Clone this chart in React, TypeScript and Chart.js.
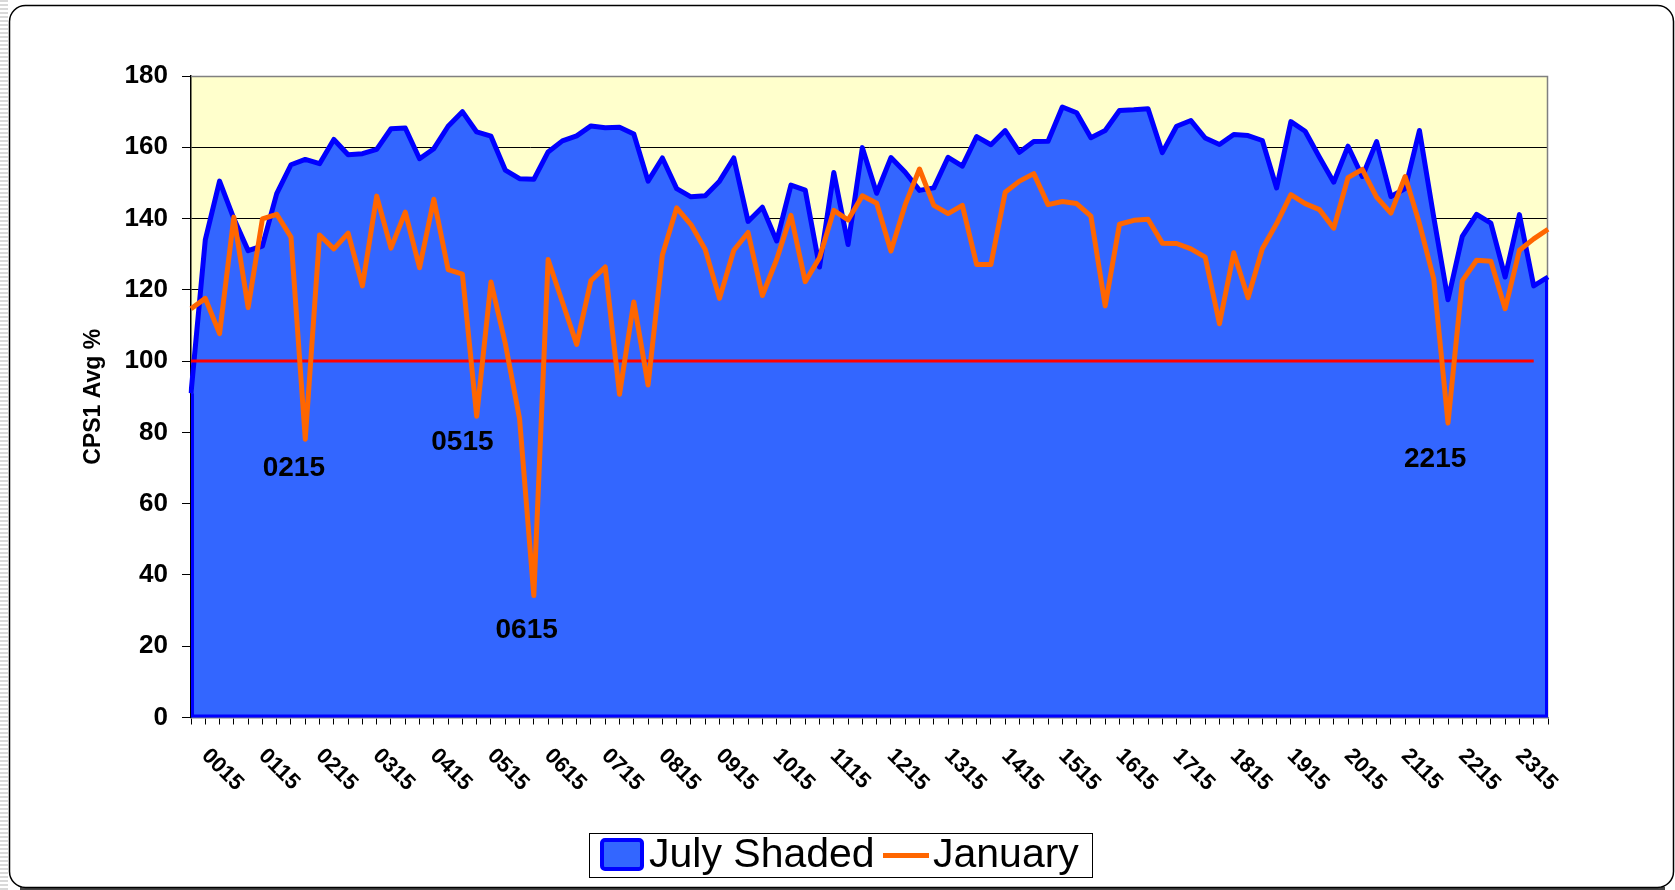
import React, { useEffect, useRef } from 'react';
import { Chart, registerables } from 'chart.js';

Chart.register(...registerables);

const categories = [
  '0015','0030','0045','0100','0115','0130','0145','0200','0215','0230','0245','0300',
  '0315','0330','0345','0400','0415','0430','0445','0500','0515','0530','0545','0600',
  '0615','0630','0645','0700','0715','0730','0745','0800','0815','0830','0845','0900',
  '0915','0930','0945','1000','1015','1030','1045','1100','1115','1130','1145','1200',
  '1215','1230','1245','1300','1315','1330','1345','1400','1415','1430','1445','1500',
  '1515','1530','1545','1600','1615','1630','1645','1700','1715','1730','1745','1800',
  '1815','1830','1845','1900','1915','1930','1945','2000','2015','2030','2045','2100',
  '2115','2130','2145','2200','2215','2230','2245','2300','2315','2330','2345','2400',
];

const julyShaded = [
  91, 134, 150.5, 140, 131, 132.3, 147, 155.1, 156.6, 155.4, 162.2, 157.9,
  158.2, 159.4, 165.2, 165.4, 156.8, 159.6, 165.9, 170, 164.3, 163.1, 153.6, 151.2,
  151, 158.7, 161.8, 163.2, 166, 165.5, 165.6, 163.7, 150.5, 157, 148.4, 146.1,
  146.4, 150.5, 157, 139.2, 143.2, 133.7, 149.4, 148, 126.4, 152.9, 132.7, 159.9,
  147.1, 157.1, 153, 147.9, 148.6, 157.2, 154.7, 163, 160.7, 164.7, 158.6, 161.6,
  161.7, 171.3, 169.7, 162.7, 164.7, 170.3, 170.5, 170.8, 158.5, 165.9, 167.5, 162.6,
  160.8, 163.6, 163.3, 161.9, 148.6, 167.2, 164.5, 157.2, 150.2, 160.3, 151.8, 161.6,
  146.2, 148.4, 164.7, 140.4, 117.2, 135, 141.2, 138.7, 123.6, 141.1, 121.1, 123.6,
];

const january = [
  114.7, 117.6, 107.7, 140.4, 115, 139.9, 141.2, 134.8, 78.1, 135.4, 131.5, 135.9,
  121.1, 146.3, 131.7, 141.8, 126.2, 145.4, 125.7, 124.4, 84.5, 122.2, 105, 83.9,
  34.2, 128.5, 116.6, 104.7, 122.6, 126.4, 90.7, 116.6, 93.3, 129.8, 143, 138.3,
  131.3, 117.6, 131.1, 136.1, 118.4, 128.5, 140.9, 122.3, 129, 142.3, 139.6, 146.4,
  144.3, 130.9, 143.9, 153.9, 143.7, 141.4, 143.7, 127.1, 127.1, 147.4, 150.5, 152.6,
  143.9, 144.8, 144.2, 140.7, 115.5, 138.4, 139.5, 139.8, 133.1, 133, 131.5, 129.2,
  110.5, 130.4, 117.8, 131.5, 138.6, 146.7, 144.2, 142.5, 137.3, 151.5, 153.8, 146,
  141.5, 151.8, 138.6, 123.1, 82.6, 122.5, 128.3, 128, 114.7, 131.1, 134.3, 137,
];

// 100% reference line, drawn up to the 2345 interval
const TARGET = 100;
const targetLine = categories.slice(0, 95).map(() => TARGET);

const Y_MIN = 0;
const Y_MAX = 180;
const Y_STEP = 20;
const X_LABEL_EVERY = 4;

const dipLabels = [
  { text: '0215', at: 7.2, value: 70 },
  { text: '0515', at: 19, value: 77.2 },
  { text: '0615', at: 23.5, value: 24.5 },
  { text: '2215', at: 87.1, value: 72.5 },
];

const legendItems = ['July Shaded', 'January'];

const FONT = '"Liberation Sans", Arial, Helvetica, sans-serif';

const framePlugin = {
  id: 'frame',
  beforeDraw(chart: any) {
    const { ctx, width, height, chartArea: a } = chart;
    ctx.save();
    ctx.fillStyle = '#ffffff';
    ctx.fillRect(0, 0, width, height);
    ctx.fillStyle = '#d9d9d9';
    for (let y = 0; y < height; y += 4) ctx.fillRect(0, y, 8, 2);
    ctx.fillStyle = '#444';
    ctx.fillRect(20, 887, 1645, 3);
    ctx.beginPath();
    (ctx as any).roundRect(9.5, 5.5, 1664, 882, 16);
    ctx.fillStyle = '#ffffff';
    ctx.fill();
    ctx.strokeStyle = '#000';
    ctx.lineWidth = 1.5;
    ctx.stroke();
    ctx.fillStyle = '#FFFFCC';
    ctx.fillRect(a.left, a.top, a.right - a.left, a.bottom - a.top);
    ctx.restore();
  },
  beforeDatasetsDraw(chart: any) {
    const { ctx, chartArea: a } = chart;
    ctx.save();
    ctx.strokeStyle = '#808080';
    ctx.lineWidth = 1.5;
    ctx.beginPath();
    ctx.moveTo(a.left, a.top + 0.5);
    ctx.lineTo(a.right - 0.5, a.top + 0.5);
    ctx.lineTo(a.right - 0.5, a.bottom);
    ctx.stroke();
    ctx.restore();
  },
  afterDatasetDraw(chart: any, args: any) {
    if (args.index !== 0) return;
    const { ctx } = chart;
    const xs = chart.scales.x;
    const ys = chart.scales.y;
    const n = julyShaded.length;
    const x0 = xs.getPixelForValue(0) + 1.5;
    const x1 = xs.getPixelForValue(n - 1) - 1.5;
    const yb = ys.getPixelForValue(Y_MIN) - 1.5;
    ctx.save();
    ctx.strokeStyle = '#0000FF';
    ctx.lineWidth = 3;
    ctx.beginPath();
    ctx.moveTo(x1, ys.getPixelForValue(julyShaded[n - 1]));
    ctx.lineTo(x1, yb);
    ctx.lineTo(x0, yb);
    ctx.lineTo(x0, ys.getPixelForValue(julyShaded[0]));
    ctx.stroke();
    ctx.restore();
  },
  afterDraw(chart: any) {
    const { ctx } = chart;
    const xs = chart.scales.x;
    const ys = chart.scales.y;
    ctx.save();
    // rotated category labels
    ctx.fillStyle = '#000';
    ctx.font = `bold 22px ${FONT}`;
    ctx.textAlign = 'left';
    ctx.textBaseline = 'middle';
    for (let i = 0; i < categories.length; i += X_LABEL_EVERY) {
      const x = xs.getPixelForValue(i) + 14;
      const y = xs.top + 35;
      ctx.save();
      ctx.translate(x, y);
      ctx.rotate(Math.PI / 4);
      ctx.fillText(categories[i], 0, 0);
      ctx.restore();
    }
    // dip annotations
    ctx.font = `bold 28px ${FONT}`;
    ctx.textAlign = 'center';
    for (const d of dipLabels) {
      ctx.fillText(d.text, xs.getPixelForValue(d.at), ys.getPixelForValue(d.value));
    }
    // legend
    ctx.strokeStyle = '#000';
    ctx.lineWidth = 1;
    ctx.strokeRect(589.5, 833.5, 503, 44);
    ctx.beginPath();
    (ctx as any).roundRect(602, 840, 40, 29, 3);
    ctx.fillStyle = '#3366FF';
    ctx.fill();
    ctx.strokeStyle = '#0000FF';
    ctx.lineWidth = 4;
    ctx.stroke();
    ctx.strokeStyle = '#FF6600';
    ctx.lineWidth = 5;
    ctx.beginPath();
    ctx.moveTo(883, 855.5);
    ctx.lineTo(929, 855.5);
    ctx.stroke();
    ctx.fillStyle = '#000';
    ctx.font = `41px ${FONT}`;
    ctx.textAlign = 'left';
    ctx.textBaseline = 'middle';
    ctx.fillText(legendItems[0], 649, 856);
    ctx.fillText(legendItems[1], 933, 856);
    ctx.restore();
  },
};

export default function App() {
  const ref = useRef<HTMLCanvasElement | null>(null);
  useEffect(() => {
    if (!ref.current) return;
    const chart = new Chart(ref.current, {
      type: 'line',
      data: {
        labels: categories,
        datasets: [
          {
            label: legendItems[0],
            data: julyShaded,
            fill: 'origin',
            backgroundColor: '#3366FF',
            borderColor: '#0000FF',
            borderWidth: 5,
            borderJoinStyle: 'round',
            pointRadius: 0,
            tension: 0,
            order: 3,
          },
          {
            label: legendItems[1],
            data: january,
            fill: false,
            borderColor: '#FF6600',
            borderWidth: 5,
            borderJoinStyle: 'round',
            pointRadius: 0,
            tension: 0,
            order: 1,
          },
          {
            label: 'Target',
            data: targetLine,
            fill: false,
            borderColor: '#FF0000',
            borderWidth: 3,
            pointRadius: 0,
            tension: 0,
            order: 2,
          },
        ],
      },
      options: {
        responsive: false,
        animation: false,
        devicePixelRatio: 1,
        layout: { padding: { left: 20, top: 76, right: 127, bottom: 0 } },
        plugins: {
          legend: { display: false },
          tooltip: { enabled: false },
        },
        scales: {
          x: {
            type: 'category',
            offset: false,
            afterFit: (s: any) => { s.height = 172.5; },
            grid: {
              offset: false,
              drawOnChartArea: false,
              drawTicks: true,
              tickLength: 7,
              tickColor: '#000',
              color: '#000',
            },
            border: { color: '#808080', width: 1.5 },
            ticks: { display: false, autoSkip: false },
          },
          y: {
            min: Y_MIN,
            max: Y_MAX,
            afterFit: (s: any) => { s.width = 171; },
            ticks: {
              stepSize: Y_STEP,
              padding: 14,
              color: '#000',
              font: { family: FONT, size: 26, weight: 'bold' },
            },
            grid: {
              color: (c: any) => (c.tick && c.tick.value === Y_MAX ? '#808080' : '#000'),
              tickColor: '#000',
              tickLength: 9,
              lineWidth: 1,
            },
            border: { color: '#000', width: 1.5 },
            title: {
              display: true,
              text: 'CPS1 Avg %',
              color: '#000',
              font: { family: FONT, size: 23, weight: 'bold' },
              padding: { top: 60, bottom: 0 },
            },
          },
        },
      },
      plugins: [framePlugin],
    } as any);
    return () => chart.destroy();
  }, []);
  return (
    <canvas
      ref={ref}
      width={1675}
      height={890}
      style={{ position: 'fixed', left: 0, top: 0, width: 1675, height: 890 }}
    />
  );
}
